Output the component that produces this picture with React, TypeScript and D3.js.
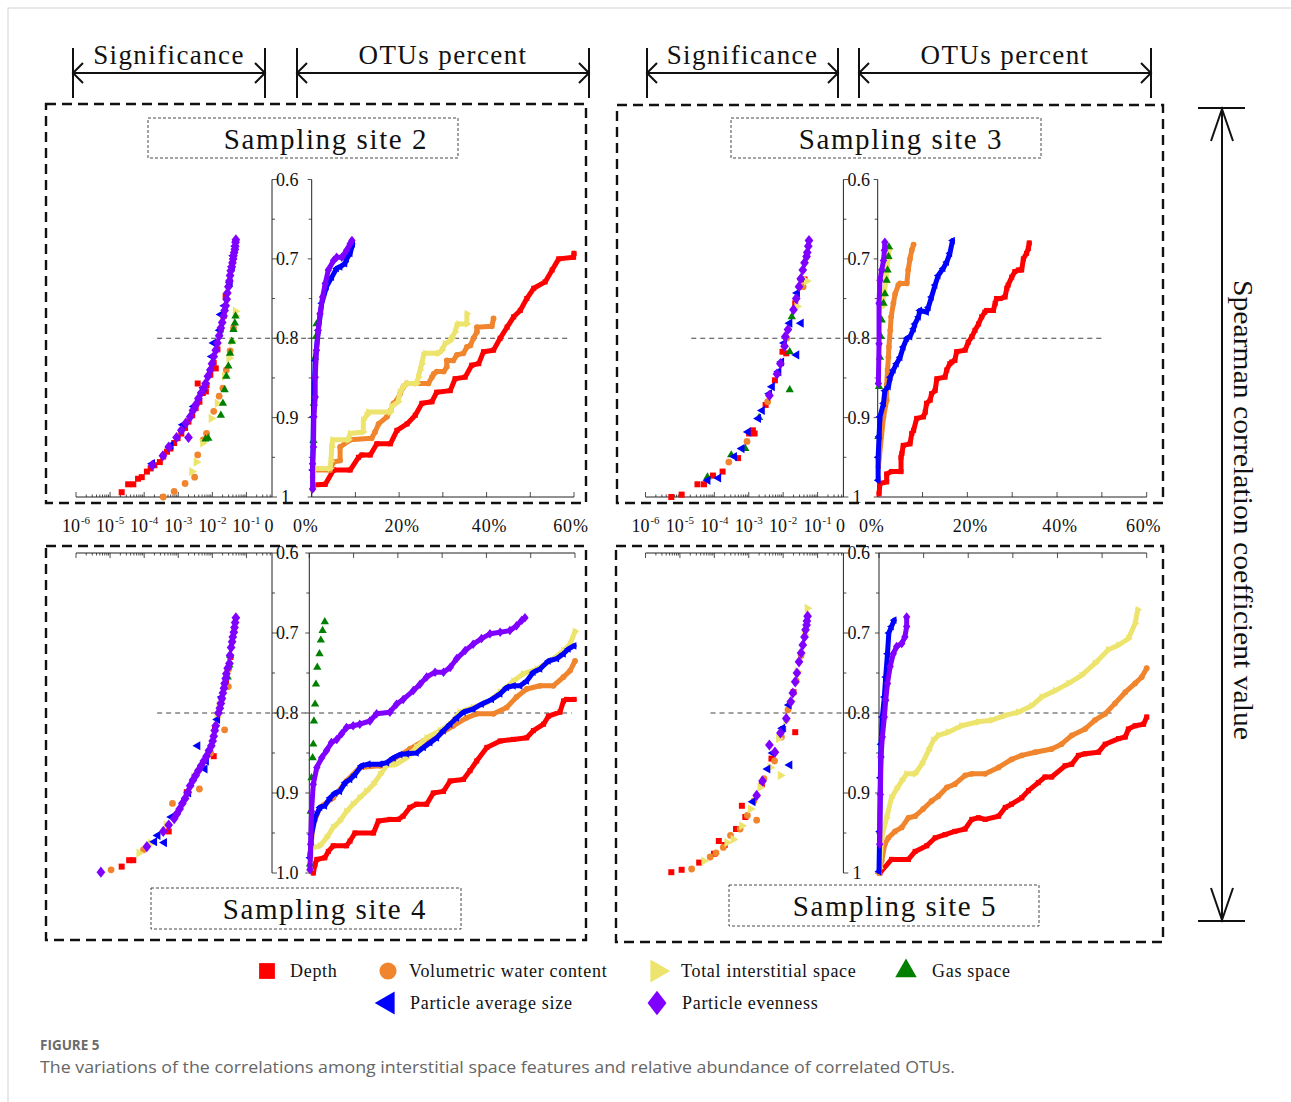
import React from "react";
import * as d3 from "d3";

// feature order is shared by every series list below
const features = [
  "Depth",
  "Volumetric water content",
  "Total interstitial space",
  "Gas space",
  "Particle average size",
  "Particle evenness",
];
const colors = ["#ff0000", "#f0852d", "#ede46e", "#008000", "#0000ff", "#8000ff"];
const shapes = ["square", "circle", "right", "up", "left", "diamond"];

const rhoLabels = ["0.6", "0.7", "0.8", "0.9"];
const pctLabels = [0, 20, 40, 60];
const sigExponents = [-6, -5, -4, -3, -2, -1];

// significance scatter: [rho, log10(p)]
const s2SigDepth = [[0.994,-4.66],[0.984,-4.47],[0.984,-4.32],[0.977,-4.18],[0.975,-4.07],[0.968,-3.92],[0.964,-3.81],[0.960,-3.70],[0.956,-3.54],[0.949,-3.44],[0.943,-3.33],[0.939,-3.23],[0.932,-3.12],[0.926,-3.02],[0.920,-2.91],[0.913,-2.80],[0.905,-2.70],[0.897,-2.59],[0.888,-2.49],[0.880,-2.38],[0.869,-2.28],[0.859,-2.17],[0.846,-2.06],[0.831,-1.96],[0.814,-1.85],[0.789,-1.75],[0.772,-1.67],[0.747,-1.61],[0.838,-1.90],[0.857,-2.43],[0.867,-2.19]];
const s2SigWater = [[1.0,-3.44],[0.993,-3.12],[0.983,-2.80],[0.975,-2.52],[0.947,-2.43],[0.928,-2.27],[0.920,-2.17],[0.892,-1.96],[0.873,-1.80],[0.863,-1.69],[0.840,-1.59],[0.816,-1.48],[0.787,-1.38]];
const s2SigTotal = [[0.968,-2.60],[0.956,-2.47],[0.932,-2.28],[0.901,-2.03],[0.882,-1.85],[0.848,-1.64],[0.825,-1.51],[0.804,-1.43],[0.772,-1.32],[0.766,-1.32]];
const s2SigGas = [[0.927,-2.20],[0.926,-2.12],[0.897,-1.75],[0.882,-1.69],[0.865,-1.64],[0.848,-1.59],[0.835,-1.53],[0.819,-1.48],[0.804,-1.43],[0.789,-1.38],[0.781,-1.34],[0.772,-1.32]];
const s2SigSize = [[0.958,-3.76],[0.935,-3.22],[0.909,-2.86],[0.886,-2.54],[0.862,-2.25],[0.823,-2.01],[0.806,-1.96],[0.790,-1.78],[0.770,-1.75],[0.759,-1.64],[0.730,-1.48],[0.710,-1.42],[0.696,-1.38],[0.684,-1.32]];
const s2SigEvenness = [[0.960,-3.76],[0.948,-3.45],[0.937,-3.28],[0.925,-3.05],[0.916,-2.91],[0.907,-2.78],[0.899,-2.65],[0.891,-2.57],[0.884,-2.49],[0.876,-2.41],[0.869,-2.33],[0.863,-2.26],[0.857,-2.20],[0.848,-2.13],[0.840,-2.06],[0.832,-2.01],[0.823,-1.96],[0.815,-1.90],[0.806,-1.85],[0.797,-1.80],[0.787,-1.75],[0.780,-1.71],[0.772,-1.67],[0.765,-1.64],[0.759,-1.61],[0.751,-1.58],[0.743,-1.56],[0.735,-1.53],[0.728,-1.50],[0.721,-1.48],[0.715,-1.46],[0.710,-1.43],[0.705,-1.41],[0.700,-1.39],[0.696,-1.38],[0.692,-1.36],[0.688,-1.34],[0.684,-1.33],[0.679,-1.32],[0.676,-1.31],[0.925,-2.70]];

const s3SigDepth = [[1.0,-5.25],[0.997,-4.95],[0.984,-4.49],[0.984,-4.30],[0.973,-4.04],[0.968,-3.76],[0.951,-3.31],[0.920,-2.99],[0.916,-2.88],[0.920,-2.83],[0.884,-2.51],[0.853,-2.24],[0.817,-2.02],[0.819,-1.91],[0.756,-1.65],[0.726,-1.38]];
const s3SigWater = [[0.956,-3.58],[0.930,-3.05],[0.880,-2.45],[0.800,-1.90],[0.735,-1.42]];
const s3SigTotal = [[0.760,-1.60],[0.728,-1.32],[0.700,-1.35]];
const s3SigGas = [[0.975,-4.20],[0.947,-3.51],[0.939,-3.10],[0.900,-2.70],[0.865,-1.81],[0.817,-1.81],[0.773,-1.75],[0.724,-1.48]];
const s3SigSize = [[0.979,-4.19],[0.976,-3.88],[0.949,-3.42],[0.939,-3.20],[0.918,-3.02],[0.901,-2.72],[0.891,-2.61],[0.870,-2.40],[0.861,-2.32],[0.842,-2.13],[0.830,-2.05],[0.806,-1.97],[0.821,-1.61],[0.781,-1.81],[0.781,-1.48],[0.743,-1.59]];
const s3SigEvenness = [[0.872,-2.40],[0.845,-2.18],[0.832,-2.08],[0.810,-1.96],[0.798,-1.94],[0.789,-1.86],[0.764,-1.70],[0.750,-1.62],[0.735,-1.54],[0.725,-1.49],[0.714,-1.43],[0.705,-1.38],[0.697,-1.32],[0.692,-1.30],[0.684,-1.27],[0.677,-1.25]];

const s4SigDepth = [[0.992,-4.66],[0.984,-4.44],[0.984,-4.32],[0.948,-3.28],[0.899,-2.75],[0.854,-1.96],[0.820,-1.92],[0.760,-1.60],[0.730,-1.47]];
const s4SigWater = [[0.996,-4.97],[0.971,-4.02],[0.913,-3.17],[0.895,-2.38],[0.850,-2.05],[0.821,-1.64],[0.767,-1.53],[0.745,-1.52]];
const s4SigTotal = [[0.975,-4.15],[0.963,-3.81],[0.940,-3.35],[0.880,-2.55],[0.805,-1.86],[0.790,-1.80],[0.750,-1.58]];
const s4SigGas = [[0.755,-1.55],[0.740,-1.50],[0.728,-1.48]];
const s4SigSize = [[0.961,-3.70],[0.953,-3.60],[0.962,-3.41],[0.930,-3.20],[0.900,-2.70],[0.870,-2.22],[0.860,-2.18],[0.841,-2.43],[0.808,-1.85],[0.780,-1.72]];
const s4SigEvenness = [[0.999,-5.27],[0.967,-3.92],[0.948,-3.44],[0.940,-3.28],[0.932,-3.12],[0.926,-3.04],[0.920,-2.96],[0.913,-2.88],[0.907,-2.80],[0.899,-2.72],[0.891,-2.65],[0.884,-2.57],[0.878,-2.49],[0.872,-2.41],[0.866,-2.33],[0.860,-2.25],[0.854,-2.17],[0.847,-2.10],[0.841,-2.03],[0.835,-1.99],[0.829,-1.96],[0.822,-1.93],[0.816,-1.90],[0.800,-1.82],[0.794,-1.78],[0.788,-1.75],[0.782,-1.72],[0.775,-1.69],[0.769,-1.66],[0.763,-1.64],[0.757,-1.61],[0.751,-1.59],[0.744,-1.55],[0.738,-1.50],[0.728,-1.48],[0.718,-1.45],[0.711,-1.42],[0.705,-1.40],[0.699,-1.37],[0.693,-1.35],[0.687,-1.33],[0.681,-1.31]];

const s5SigDepth = [[0.999,-5.25],[0.996,-4.95],[0.987,-4.44],[0.976,-4.01],[0.965,-3.70],[0.960,-3.87],[0.945,-3.37],[0.930,-3.10],[0.916,-3.20],[0.890,-2.62],[0.857,-2.34],[0.820,-2.00],[0.774,-1.70],[0.824,-1.65]];
const s5SigWater = [[0.995,-4.66],[0.980,-4.12],[0.975,-3.95],[0.968,-3.74],[0.953,-3.53],[0.945,-3.25],[0.928,-3.04],[0.934,-2.77],[0.910,-2.85],[0.882,-2.56],[0.860,-2.25],[0.830,-2.05],[0.796,-1.86],[0.760,-1.62],[0.728,-1.48]];
const s5SigTotal = [[0.985,-4.30],[0.962,-3.63],[0.958,-3.45],[0.941,-3.20],[0.920,-2.95],[0.893,-2.67],[0.868,-2.38],[0.878,-2.08],[0.832,-2.13],[0.810,-1.92],[0.785,-1.76],[0.748,-1.59],[0.725,-1.46],[0.702,-1.38],[0.669,-1.30]];
const s5SigSize = [[0.911,-2.88],[0.870,-2.45],[0.850,-2.30],[0.819,-2.02],[0.790,-1.83],[0.865,-1.81]];
const s5SigEvenness = [[0.903,-2.77],[0.885,-2.60],[0.849,-2.24],[0.840,-2.40],[0.825,-2.08],[0.807,-1.91],[0.786,-1.78],[0.775,-1.72],[0.761,-1.65],[0.750,-1.60],[0.736,-1.54],[0.725,-1.48],[0.715,-1.43],[0.705,-1.38],[0.696,-1.35],[0.690,-1.32],[0.685,-1.31],[0.679,-1.29]];

// cumulative OTU share: [rho, percent]
const s2OtuDepth = [[0.985,0.3],[0.984,3.1],[0.966,5],[0.966,8.8],[0.950,10.7],[0.947,11.5],[0.947,13.4],[0.933,14.9],[0.933,18],[0.916,19.5],[0.908,21.8],[0.897,23.7],[0.882,25.2],[0.880,27.5],[0.868,28.6],[0.866,31.7],[0.851,32.8],[0.849,35.1],[0.834,36.6],[0.832,38.2],[0.817,39.3],[0.815,41.6],[0.800,43.1],[0.786,44.7],[0.773,46.2],[0.765,47.7],[0.750,49.2],[0.737,50.8],[0.729,53.4],[0.714,55],[0.700,56.5],[0.698,59.9],[0.693,60]];
const s2OtuWater = [[0.99,0.2],[0.975,0.2],[0.966,0.3],[0.966,4.2],[0.956,5],[0.954,6.5],[0.937,6.5],[0.928,8.8],[0.926,13.7],[0.918,14.5],[0.908,15.3],[0.899,17.2],[0.891,18],[0.882,18.7],[0.878,19.5],[0.870,20.2],[0.861,21],[0.857,21.8],[0.857,26.7],[0.849,27.5],[0.845,27.9],[0.842,28.6],[0.842,30.2],[0.836,30.9],[0.828,30.9],[0.828,32.4],[0.821,33.2],[0.819,34.7],[0.811,35.5],[0.809,36.3],[0.800,37],[0.792,37.8],[0.786,37.8],[0.785,41.2],[0.775,41.6]];
const s2OtuTotal = [[0.99,0.2],[0.964,0.4],[0.964,4.2],[0.955,4.4],[0.937,4.6],[0.928,4.8],[0.928,8.4],[0.920,8.8],[0.918,11.8],[0.903,11.8],[0.897,12.6],[0.893,13],[0.893,18],[0.886,18.3],[0.880,19.8],[0.868,20.2],[0.861,21],[0.857,21.8],[0.857,24],[0.849,24.4],[0.840,24.8],[0.832,25.2],[0.821,25.6],[0.819,26],[0.819,29],[0.815,29.8],[0.807,30.5],[0.803,31.7],[0.800,32],[0.792,32.8],[0.784,33.2],[0.782,33.6],[0.782,35.5],[0.769,35.5]];
const s2OtuGas = [[0.929,0.4],[0.882,0.5],[0.824,0.8],[0.798,1.0],[0.782,1.1]];
const s2OtuSize = [[0.966,0.2],[0.899,0.4],[0.828,0.8],[0.790,1.5],[0.756,2.3],[0.735,3.4],[0.723,4.6],[0.712,5.7],[0.710,6.5],[0.706,7.6],[0.700,8],[0.693,8.8],[0.681,9.4]];
const s2OtuEvenness = [[0.99,0.2],[0.958,0.2],[0.937,0.4],[0.899,0.5],[0.874,0.8],[0.849,0.8],[0.815,1.1],[0.790,1.5],[0.769,1.9],[0.748,2.5],[0.731,3.1],[0.714,3.8],[0.702,5],[0.698,5.7],[0.698,6.9],[0.689,8],[0.681,8.8],[0.677,9.2]];

const s3OtuDepth = [[0.996,0.3],[0.983,0.5],[0.981,2],[0.971,2],[0.968,3.1],[0.968,5.2],[0.950,5.2],[0.945,5.4],[0.935,5.7],[0.933,7.2],[0.920,7.6],[0.916,8],[0.901,8.7],[0.899,10.2],[0.893,10.6],[0.882,10.9],[0.878,11.7],[0.870,12],[0.866,12.8],[0.851,13.2],[0.849,15],[0.840,15.4],[0.832,16.1],[0.830,16.5],[0.828,17.2],[0.817,17.6],[0.815,19.5],[0.805,20.2],[0.798,21],[0.790,21.7],[0.782,22.5],[0.773,23.2],[0.767,23.9],[0.765,24.3],[0.765,25.8],[0.756,26.2],[0.750,26.5],[0.750,27.3],[0.748,28.4],[0.737,28.8],[0.733,29.1],[0.723,29.9],[0.716,30.6],[0.714,31.4],[0.714,32.1],[0.700,32.5],[0.693,33.2],[0.687,33.6],[0.680,33.8]];
const s3OtuWater = [[0.962,0.15],[0.899,1.3],[0.878,2],[0.859,2],[0.840,2.2],[0.824,2.4],[0.811,2.5],[0.790,2.8],[0.773,3],[0.756,3.5],[0.744,3.9],[0.733,4.6],[0.731,5],[0.731,6.5],[0.714,6.8],[0.700,7.2],[0.689,7.6],[0.682,8]];
const s3OtuTotal = [[0.760,1.0],[0.730,1.8],[0.700,2.3],[0.688,2.6]];
const s3OtuGas = [[0.924,0.15],[0.861,0.3],[0.824,0.5],[0.798,0.7],[0.777,0.9],[0.756,1.3],[0.744,1.6],[0.727,2],[0.714,2.2],[0.697,2.4],[0.685,2.5]];
const s3OtuSize = [[0.979,0.1],[0.950,0.1],[0.924,0.3],[0.899,0.5],[0.882,1.3],[0.866,1.6],[0.861,2.4],[0.849,2.8],[0.840,3.5],[0.832,4.2],[0.824,5],[0.811,5.7],[0.800,6.5],[0.798,7.2],[0.788,8],[0.782,8.3],[0.773,9.1],[0.765,9.4],[0.767,10.9],[0.761,11.3],[0.748,12],[0.733,12.8],[0.721,13.5],[0.712,14.6],[0.704,15.4],[0.693,16.1],[0.677,16.7]];
const s3OtuEvenness = [[0.857,0.15],[0.807,0.3],[0.756,0.3],[0.727,0.5],[0.714,0.9],[0.702,1.3],[0.689,1.5],[0.679,1.6]];

const s4OtuDepth = [[1.0,0.9],[0.989,1.3],[0.983,1.7],[0.981,3.5],[0.973,4.3],[0.966,5.4],[0.966,8.4],[0.960,9.2],[0.950,10.3],[0.950,14.5],[0.935,15.6],[0.933,18.2],[0.933,20.1],[0.929,21.2],[0.918,22.7],[0.914,24.2],[0.914,26.5],[0.900,28],[0.898,30.3],[0.885,31.8],[0.883,34.8],[0.872,36.3],[0.860,37.8],[0.843,40.1],[0.835,43.1],[0.833,46.1],[0.831,49.1],[0.822,50.6],[0.814,52.9],[0.804,54],[0.799,56.6],[0.785,57.4],[0.783,58.1],[0.783,59.8]];
const s4OtuWater = [[0.977,0.15],[0.939,0.9],[0.918,2.4],[0.906,5.4],[0.885,8.4],[0.868,11.4],[0.866,16],[0.858,19],[0.845,22.7],[0.835,25.8],[0.826,29.5],[0.816,32.5],[0.806,35.5],[0.801,37.8],[0.801,41.6],[0.793,44.6],[0.780,46.8],[0.770,49.1],[0.766,52.1],[0.766,55.1],[0.755,57.4],[0.747,58.9],[0.735,60]];
const s4OtuTotal = [[0.996,0.15],[0.969,0.5],[0.966,2.4],[0.956,3.9],[0.943,5.4],[0.935,6.9],[0.923,8.4],[0.914,9.9],[0.906,11.4],[0.898,12.9],[0.889,14.5],[0.877,16],[0.866,17.5],[0.864,19.7],[0.856,22],[0.843,24.2],[0.831,26.5],[0.822,29.5],[0.814,31.8],[0.799,34],[0.793,37],[0.787,40.1],[0.774,43.1],[0.760,46.1],[0.751,48.3],[0.745,51.4],[0.735,54.4],[0.722,57.4],[0.714,58.9],[0.698,60]];
const s4OtuGas = [[0.989,0.15],[0.923,0.3],[0.881,0.5],[0.856,0.75],[0.839,0.9],[0.810,1.05],[0.789,1.3],[0.764,1.5],[0.743,1.8],[0.726,2.3],[0.709,2.6],[0.697,3],[0.686,3.5]];
const s4OtuSize = [[0.981,0.15],[0.952,0.5],[0.931,1.3],[0.918,2.4],[0.916,3.5],[0.906,4.7],[0.900,5.8],[0.898,6.9],[0.887,8.1],[0.883,9.2],[0.877,10.3],[0.866,11.8],[0.864,13.3],[0.864,16],[0.862,17.5],[0.856,19],[0.852,20.5],[0.851,22],[0.850,24.2],[0.843,25.8],[0.837,27.3],[0.831,28.8],[0.822,30.3],[0.814,31.8],[0.806,33.3],[0.799,34.8],[0.795,37],[0.789,38.9],[0.783,41.2],[0.776,43.1],[0.768,44.6],[0.766,46.1],[0.766,47.6],[0.760,49.1],[0.749,50.6],[0.745,52.1],[0.735,54],[0.732,55.9],[0.726,57.4],[0.720,58.5],[0.716,59.8]];
const s4OtuEvenness = [[0.996,0.15],[0.964,0.3],[0.923,0.5],[0.889,0.9],[0.868,1.7],[0.856,2.8],[0.847,3.9],[0.837,5],[0.833,6.2],[0.826,7.3],[0.818,8.4],[0.816,9.9],[0.814,11.4],[0.810,13.7],[0.801,15.2],[0.799,18.2],[0.789,19.7],[0.783,21.2],[0.772,23.5],[0.764,25],[0.755,26.5],[0.749,28.4],[0.749,30.3],[0.743,31.8],[0.732,33.3],[0.722,35.2],[0.714,37],[0.707,38.9],[0.701,40.8],[0.699,43.1],[0.697,45.3],[0.691,46.8],[0.684,48],[0.681,48.7]];

const s5OtuDepth = [[1.0,0.2],[0.983,2.8],[0.983,6.6],[0.973,8.1],[0.966,10.7],[0.956,12.6],[0.952,14.8],[0.948,17],[0.945,19.3],[0.933,20.8],[0.931,22.3],[0.933,23.8],[0.929,26.8],[0.918,28.3],[0.914,29.7],[0.906,32],[0.897,33.5],[0.887,35.7],[0.880,37.2],[0.880,38.7],[0.866,41.7],[0.864,43.2],[0.853,44.7],[0.851,46.2],[0.849,49.2],[0.839,50.7],[0.832,53.7],[0.830,55.2],[0.820,55.9],[0.816,57.4],[0.814,59.3],[0.805,60]];
const s5OtuWater = [[1.0,0],[0.985,0.6],[0.964,1.3],[0.956,2.1],[0.948,3.6],[0.943,5.1],[0.931,6.6],[0.929,8.1],[0.920,9.9],[0.910,11.8],[0.904,13.3],[0.893,15.2],[0.889,17],[0.878,19.3],[0.876,20.8],[0.876,23.8],[0.868,26.8],[0.858,29.7],[0.853,32],[0.849,35],[0.845,38.7],[0.839,40.9],[0.828,43.2],[0.820,46.2],[0.809,48.4],[0.801,50.7],[0.788,52.9],[0.774,55.2],[0.763,57.4],[0.755,58.9],[0.744,60]];
const s5OtuTotal = [[0.994,0.15],[0.956,0.6],[0.931,1.7],[0.906,2.8],[0.895,3.96],[0.885,5.1],[0.876,6.2],[0.876,8.1],[0.864,9.6],[0.847,11.1],[0.834,12.2],[0.828,13.3],[0.824,15.5],[0.816,18.5],[0.811,22.3],[0.809,25.3],[0.803,28.3],[0.799,31.2],[0.791,34.2],[0.780,36.5],[0.772,39.5],[0.763,42.5],[0.753,45.4],[0.738,48.4],[0.721,51.4],[0.715,53.7],[0.707,55.9],[0.688,57.4],[0.671,58]];
const s5OtuSize = [[0.998,0],[0.948,0.15],[0.881,0.3],[0.839,0.45],[0.805,0.75],[0.780,1.2],[0.755,1.5],[0.726,1.9],[0.700,2.2],[0.692,2.8],[0.684,3.4]];
const s5OtuEvenness = [[0.964,0.15],[0.902,0.3],[0.855,0.45],[0.830,0.75],[0.805,1.2],[0.784,1.5],[0.763,1.9],[0.742,2.5],[0.726,3.2],[0.717,3.96],[0.713,5.1],[0.705,5.8],[0.692,6.2],[0.680,6.2]];

const SIG_DOMAIN = [1e-6, Math.pow(10, -0.25)];

type Series = [number, number[][]];
type PanelCfg = {
  title: string;
  box: number[];
  titleBox: number[];
  titleX: number;
  titleY: number;
  sig: number[];
  otu: number[];
  y: number[];
  side: "bottom" | "top";
  lastLabel: string;
  refLine: number[];
  sigSeries: Series[];
  otuSeries: Series[];
};

const panels: PanelCfg[] = [
  {
    title: "Sampling site 2", box: [46, 104, 540, 399], titleBox: [148, 118, 310, 40], titleX: 326, titleY: 148,
    sig: [76, 272], otu: [311.7, 574], y: [179.5, 497], side: "bottom", lastLabel: "1", refLine: [-3.62, 59.1],
    sigSeries: [[0, s2SigDepth], [1, s2SigWater], [2, s2SigTotal], [3, s2SigGas], [4, s2SigSize], [5, s2SigEvenness]],
    otuSeries: [[0, s2OtuDepth], [1, s2OtuWater], [2, s2OtuTotal], [3, s2OtuGas], [4, s2OtuSize], [5, s2OtuEvenness]],
  },
  {
    title: "Sampling site 3", box: [617, 105, 546, 398], titleBox: [731, 118, 310, 40], titleX: 901, titleY: 148,
    sig: [645.5, 843.4], otu: [877.7, 1146.7], y: [179.5, 497], side: "bottom", lastLabel: "1", refLine: [-4.67, 50.5],
    sigSeries: [[0, s3SigDepth], [1, s3SigWater], [2, s3SigTotal], [3, s3SigGas], [4, s3SigSize], [5, s3SigEvenness]],
    otuSeries: [[0, s3OtuDepth], [1, s3OtuWater], [2, s3OtuTotal], [3, s3OtuGas], [4, s3OtuSize], [5, s3OtuEvenness]],
  },
  {
    title: "Sampling site 4", box: [46, 546, 540, 394], titleBox: [151, 888, 310, 41], titleX: 325, titleY: 918,
    sig: [76, 272], otu: [309.3, 575], y: [553, 873], side: "top", lastLabel: "1.0", refLine: [-3.62, 59.3],
    sigSeries: [[0, s4SigDepth], [1, s4SigWater], [2, s4SigTotal], [3, s4SigGas], [4, s4SigSize], [5, s4SigEvenness]],
    otuSeries: [[0, s4OtuDepth], [1, s4OtuWater], [2, s4OtuTotal], [3, s4OtuGas], [4, s4OtuSize], [5, s4OtuEvenness]],
  },
  {
    title: "Sampling site 5", box: [616, 546, 547, 396], titleBox: [729, 885, 310, 41], titleX: 895, titleY: 915,
    sig: [645.5, 843.4], otu: [879, 1146.7], y: [553, 873], side: "top", lastLabel: "1", refLine: [-4.11, 52.7],
    sigSeries: [[0, s5SigDepth], [1, s5SigWater], [2, s5SigTotal], [4, s5SigSize], [5, s5SigEvenness]],
    otuSeries: [[0, s5OtuDepth], [1, s5OtuWater], [2, s5OtuTotal], [4, s5OtuSize], [5, s5OtuEvenness]],
  },
];

const SERIF = "'Liberation Serif', 'Times New Roman', serif";

function symbolPath(shape: string, size: number) {
  const type =
    shape === "square" ? d3.symbolSquare :
    shape === "circle" ? d3.symbolCircle :
    shape === "diamond" ? d3.symbolDiamond : d3.symbolTriangle;
  return d3.symbol().type(type).size(size)() as string;
}

function Marker({ shape, x, y, size, color }: { shape: string; x: number; y: number; size: number; color: string }) {
  const rot = shape === "right" ? 90 : shape === "left" ? -90 : 0;
  const widen = shape === "diamond" ? " scale(1.35,1)" : "";
  return <path d={symbolPath(shape, size)} transform={`translate(${x},${y}) rotate(${rot})${widen}`} fill={color} />;
}

function Panel({ p }: { p: PanelCfg }) {
  const sx = d3.scaleLog().domain(SIG_DOMAIN).range(p.sig);
  const ox = d3.scaleLinear().domain([0, 60]).range(p.otu);
  const y = d3.scaleLinear().domain([0.6, 1.0]).range(p.y);
  const axisY = p.side === "bottom" ? p.y[1] : p.y[0];
  const dir = p.side === "bottom" ? -1 : 1;
  const rhoTicks = y.ticks(8);
  const logTicks = sx.ticks();
  const pctTicks = ox.ticks(6);
  const isMajorRho = (v: number) => Math.abs(v * 10 - Math.round(v * 10)) < 1e-6;
  const isDecade = (v: number) => Math.abs(Math.log10(v) - Math.round(Math.log10(v))) < 1e-6;
  const line = d3.line<number[]>().x((d) => ox(d[1])).y((d) => y(d[0]));
  const [bx, by, bw, bh] = p.box;
  const [tx, ty, tw, th] = p.titleBox;

  return (
    <g>
      <rect x={bx} y={by} width={bw} height={bh} fill="none" stroke="#111" strokeWidth={2.4} strokeDasharray="10 6" />
      <rect x={tx} y={ty} width={tw} height={th} fill="none" stroke="#333" strokeWidth={0.9} strokeDasharray="3 2" />
      <text x={p.titleX} y={p.titleY + 1} textAnchor="middle" fontFamily={SERIF} fontSize={29} letterSpacing={1.6} fill="#111">
        {p.title}
      </text>

      {/* significance axis */}
      <line x1={p.sig[0]} x2={p.sig[1]} y1={axisY} y2={axisY} stroke="#222" strokeWidth={1} />
      {logTicks.map((v, i) => (
        <line key={i} x1={sx(v)} x2={sx(v)} y1={axisY} y2={axisY + dir * (isDecade(v) ? 5 : 2.5)} stroke="#222" strokeWidth={0.8} />
      ))}
      <line x1={p.sig[1]} x2={p.sig[1]} y1={p.y[0]} y2={p.y[1]} stroke="#222" strokeWidth={1} />
      {rhoTicks.map((v, i) => (
        <line key={i} x1={p.sig[1]} x2={p.sig[1] + (isMajorRho(v) ? 5 : 3)} y1={y(v)} y2={y(v)} stroke="#222" strokeWidth={0.8} />
      ))}

      {/* OTU axis */}
      <line x1={p.otu[0]} x2={p.otu[0]} y1={p.y[0]} y2={p.y[1]} stroke="#222" strokeWidth={1} />
      <line x1={p.otu[0]} x2={p.otu[1]} y1={axisY} y2={axisY} stroke="#222" strokeWidth={1} />
      {rhoTicks.map((v, i) => (
        <line key={i} x1={p.otu[0]} x2={p.otu[0] - (isMajorRho(v) ? 4 : 3)} y1={y(v)} y2={y(v)} stroke="#222" strokeWidth={0.8} />
      ))}
      {pctTicks.map((v, i) => (
        <line key={i} x1={ox(v)} x2={ox(v)} y1={axisY} y2={axisY + dir * 5} stroke="#222" strokeWidth={0.8} />
      ))}

      {rhoLabels.map((lab) => (
        <text key={lab} x={p.sig[1] + 4} y={y(+lab) + 6} fontFamily={SERIF} fontSize={18} fill="#111">
          {lab}
        </text>
      ))}
      <text x={p.sig[1] + (p.lastLabel === "1" ? 9 : 4)} y={y(1) + 6} fontFamily={SERIF} fontSize={18} fill="#111">
        {p.lastLabel}
      </text>

      <line
        x1={sx(Math.pow(10, p.refLine[0]))} x2={ox(p.refLine[1])} y1={y(0.8)} y2={y(0.8)}
        stroke="#444" strokeWidth={1.1} strokeDasharray="5 4"
      />

      {/* significance scatter */}
      {p.sigSeries.map(([f, data]) => (
        <g key={f}>
          {data.map((d, i) => (
            <Marker key={i} shape={shapes[f]} x={sx(Math.pow(10, d[1]))} y={y(d[0])} size={f === 3 ? 30 : 36} color={colors[f]} />
          ))}
        </g>
      ))}

      {/* cumulative OTU percent */}
      {p.otuSeries.map(([f, data]) => (
        <g key={f}>
          {f !== 3 && (
            <path d={line(data) as string} fill="none" stroke={colors[f]} strokeWidth={5} strokeLinejoin="round" strokeLinecap="round" />
          )}
          {data.map((d, i) => (
            <Marker key={i} shape={shapes[f]} x={ox(d[1])} y={y(d[0])} size={f === 3 ? 30 : 26} color={colors[f]} />
          ))}
        </g>
      ))}

      {p.side === "bottom" && (
        <g fontFamily={SERIF} fill="#111">
          {sigExponents.map((e) => (
            <text key={e} x={sx(Math.pow(10, e))} y={532} textAnchor="middle" fontSize={18}>
              10
              <tspan fontSize={11} dy={-8} dx={1}>
                {"-" + Math.abs(e)}
              </tspan>
            </text>
          ))}
          <text x={p.sig[1] - 3} y={532} textAnchor="middle" fontSize={18}>0</text>
          {pctLabels.map((v) => (
            <text key={v} x={ox(v) + (v === 0 ? -6 : v === 60 ? -3 : 3)} y={532} textAnchor="middle" fontSize={18} letterSpacing={0.8}>
              {v + "%"}
            </text>
          ))}
        </g>
      )}
    </g>
  );
}

function Header({ x0, x1, label }: { x0: number; x1: number; label: string }) {
  const yl = 73;
  return (
    <g stroke="#111" strokeWidth={2} fill="none">
      <line x1={x0} x2={x0} y1={48} y2={98} />
      <line x1={x1} x2={x1} y1={48} y2={98} />
      <line x1={x0} x2={x1} y1={yl} y2={yl} />
      <polyline points={`${x0 + 10},${yl - 10} ${x0},${yl} ${x0 + 10},${yl + 10}`} />
      <polyline points={`${x1 - 10},${yl - 10} ${x1},${yl} ${x1 - 10},${yl + 10}`} />
      <text x={(x0 + x1) / 2} y={64} textAnchor="middle" fontFamily={SERIF} fontSize={27} letterSpacing={1.4} fill="#111" stroke="none">
        {label}
      </text>
    </g>
  );
}

const legendItems = [
  { f: 0, mx: 267, tx: 290, y: 971 },
  { f: 1, mx: 388, tx: 409, y: 971 },
  { f: 2, mx: 657, tx: 681, y: 971 },
  { f: 3, mx: 906, tx: 932, y: 971 },
  { f: 4, mx: 388, tx: 410, y: 1003 },
  { f: 5, mx: 657, tx: 682, y: 1003 },
];

export default function App() {
  return (
    <svg width={1291} height={1102} style={{ position: "absolute", left: 0, top: 0, background: "#fff" }}>
      <rect x={8} y={8} width={1300} height={1110} fill="none" stroke="#d4d4d4" strokeWidth={1} />

      <Header x0={73} x1={265} label="Significance" />
      <Header x0={297} x1={589} label="OTUs percent" />
      <Header x0={647} x1={838} label="Significance" />
      <Header x0={859} x1={1151} label="OTUs percent" />

      {panels.map((p) => (
        <Panel key={p.title} p={p} />
      ))}

      <g stroke="#111" strokeWidth={2} fill="none">
        <line x1={1198} x2={1245} y1={108} y2={108} />
        <line x1={1198} x2={1245} y1={921} y2={921} />
        <line x1={1222} x2={1222} y1={108} y2={921} />
        <polyline points="1211,141 1222,109 1233,141" />
        <polyline points="1211,888 1222,920 1233,888" />
      </g>
      <text
        transform="translate(1234,510) rotate(90)" textAnchor="middle" fontFamily={SERIF} fontSize={27}
        textLength={460} lengthAdjust="spacingAndGlyphs" fill="#111"
      >
        Spearman correlation coefficient value
      </text>

      {legendItems.map((it) => (
        <g key={it.f}>
          <Marker shape={shapes[it.f]} x={it.mx} y={it.y} size={it.f === 5 ? 170 : it.f === 0 ? 250 : it.f === 3 ? 200 : 230} color={colors[it.f]} />
          <text x={it.tx} y={it.y + 6} fontFamily={SERIF} fontSize={18} letterSpacing={0.7} fill="#111">
            {features[it.f]}
          </text>
        </g>
      ))}

      <text x={40} y={1050} fontFamily="'Open Sans', 'Noto Sans', sans-serif" fontSize={13.5} fontWeight={700} fill="#6b6b6b">
        FIGURE 5
      </text>
      <text
        x={40} y={1073} fontFamily="'Open Sans', 'Noto Sans', sans-serif" fontSize={16.5} fill="#666"
        textLength={915} lengthAdjust="spacingAndGlyphs"
      >
        The variations of the correlations among interstitial space features and relative abundance of correlated OTUs.
      </text>
    </svg>
  );
}
